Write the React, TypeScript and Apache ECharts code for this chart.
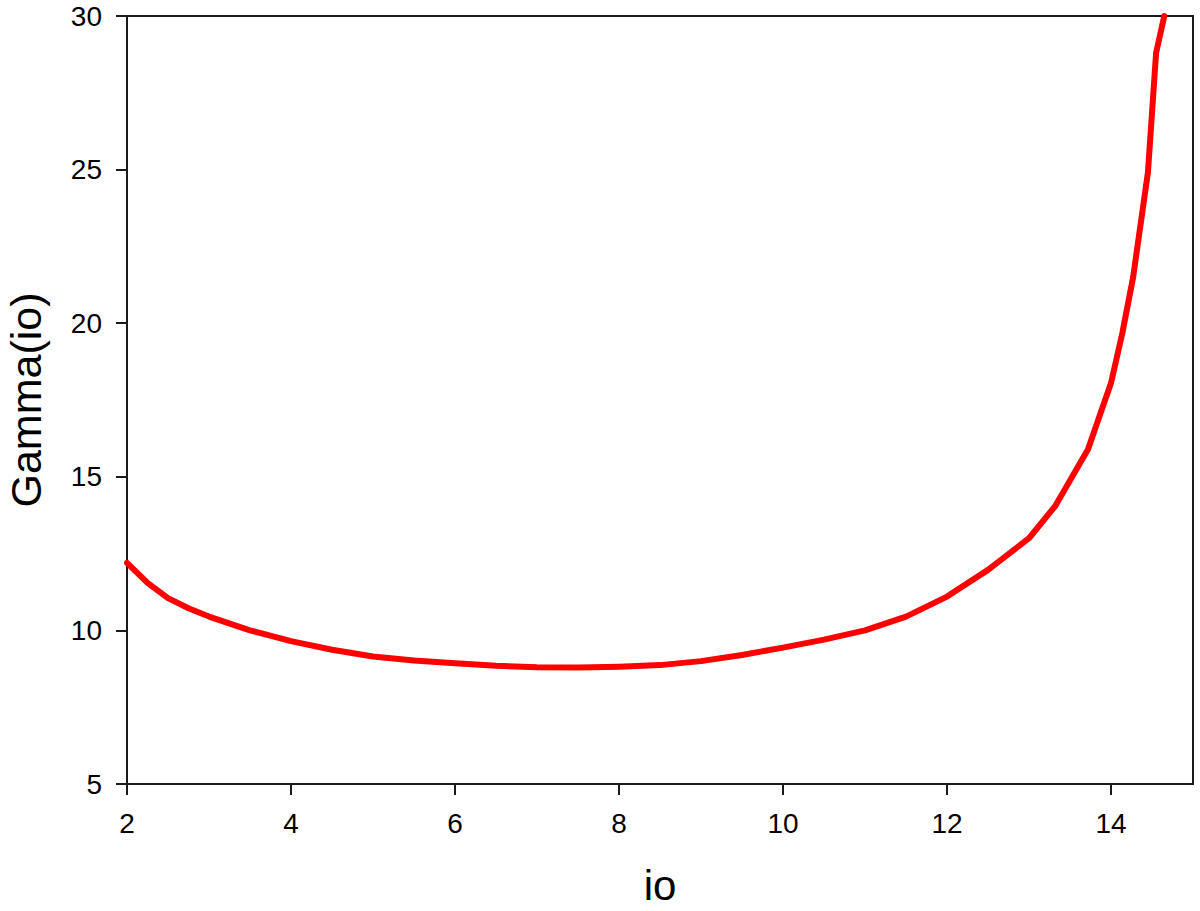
import React, { useEffect, useRef } from "react";
import * as echarts from "echarts";

const ioValues = [2, 2.25, 2.5, 2.75, 3, 3.5, 4, 4.5, 5, 5.5, 6, 6.5, 7, 7.5, 8, 8.5, 9, 9.5, 10, 10.5, 11, 11.5, 12, 12.5, 13, 13.32, 13.72, 14.0, 14.14, 14.27, 14.45, 14.55, 14.65];
const gammaValues = [12.2, 11.55, 11.05, 10.72, 10.45, 10.0, 9.65, 9.37, 9.15, 9.02, 8.93, 8.85, 8.8, 8.79, 8.82, 8.87, 9.0, 9.2, 9.44, 9.7, 10.0, 10.45, 11.1, 11.97, 13.0, 14.05, 15.9, 18.05, 19.7, 21.5, 24.9, 28.8, 30.0];
const xTicks = [2, 4, 6, 8, 10, 12, 14];
const yTicks = [5, 10, 15, 20, 25, 30];

export default function App() {
  const ref = useRef<HTMLDivElement>(null);
  useEffect(() => {
    if (!ref.current) return;
    const chart = echarts.init(ref.current, null, { renderer: "svg" });
    const axisColor = "#1a1a1a";
    chart.setOption({
      animation: false,
      backgroundColor: "#ffffff",
      textStyle: { fontFamily: "Liberation Sans, Arial, sans-serif" },
      grid: {
        left: 127,
        top: 16,
        right: 7,
        bottom: 127,
        containLabel: false,
        outerBoundsMode: "none",
        show: true,
        borderColor: axisColor,
        borderWidth: 2,
        backgroundColor: "transparent",
      },
      xAxis: {
        type: "value",
        min: 2,
        max: 15,
        interval: 2,
        name: "io",
        nameLocation: "middle",
        nameGap: 80,
        nameTextStyle: { fontSize: 42, color: "#000", fontFamily: "Liberation Sans, Arial, sans-serif" },
        axisLine: { show: true, lineStyle: { color: axisColor, width: 2 } },
        axisTick: { show: true, length: 11, inside: false, lineStyle: { color: axisColor, width: 2 }, customValues: xTicks },
        axisLabel: { fontSize: 28, color: "#000", margin: 25, customValues: xTicks },
        splitLine: { show: false },
      },
      yAxis: {
        type: "value",
        min: 5,
        max: 30,
        interval: 5,
        name: "Gamma(io)",
        nameLocation: "middle",
        nameGap: 80,
        nameRotate: 90,
        nameTextStyle: { fontSize: 43, color: "#000", fontFamily: "Liberation Sans, Arial, sans-serif" },
        axisLine: { show: true, lineStyle: { color: axisColor, width: 2 } },
        axisTick: { show: true, length: 11, inside: false, lineStyle: { color: axisColor, width: 2 }, customValues: yTicks },
        axisLabel: { fontSize: 28, color: "#000", margin: 25, customValues: yTicks },
        splitLine: { show: false },
      },
      series: [
        {
          type: "line",
          data: ioValues.map((x, i) => [x, gammaValues[i]]),
          showSymbol: false,
          smooth: false,
          lineStyle: { color: "#ff0000", width: 6, cap: "round", join: "round" },
          clip: false,
        },
      ],
    });
    return () => chart.dispose();
  }, []);
  return (
    <div
      ref={ref}
      style={{ position: "fixed", left: 0, top: 0, width: 1200, height: 911, background: "#fff" }}
    />
  );
}
